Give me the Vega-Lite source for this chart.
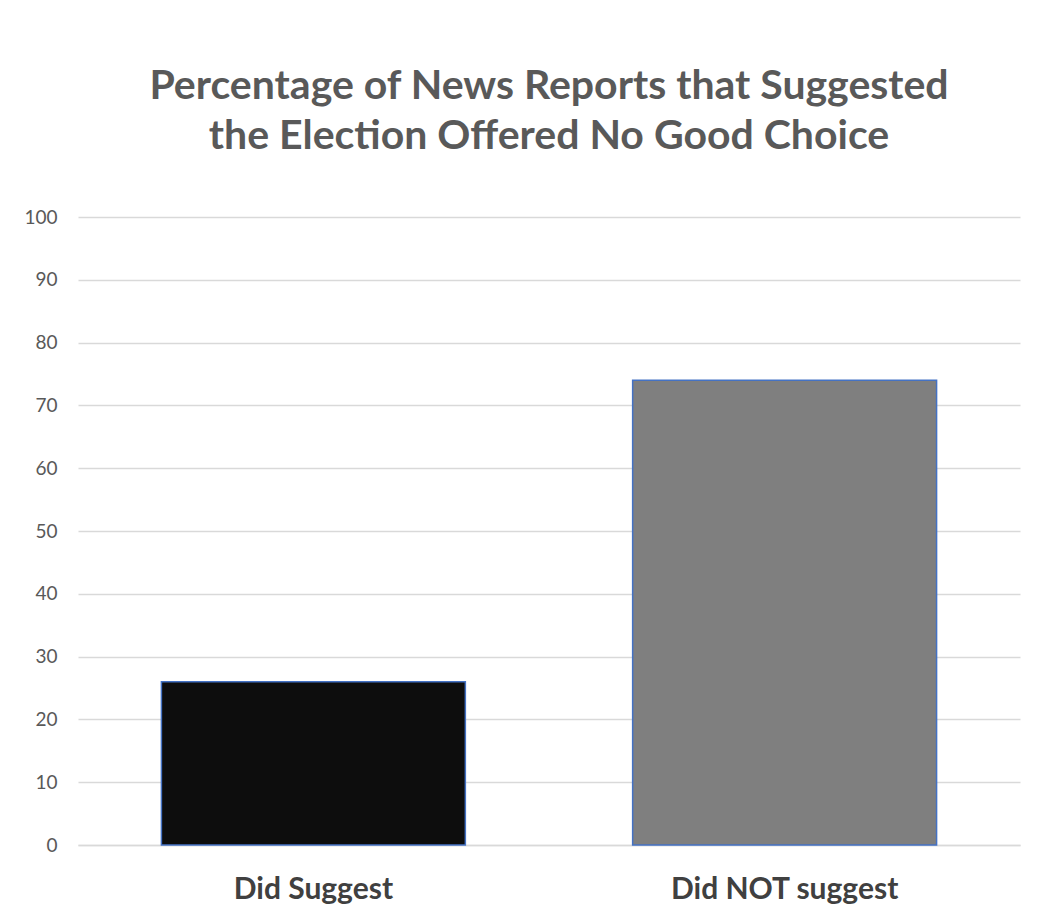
{
  "$schema": "https://vega.github.io/schema/vega-lite/v6.json",
  "autosize": "none",
  "width": 942,
  "height": 628,
  "padding": {"left": 78, "top": 217, "right": 19, "bottom": 77},
  "background": "white",
  "title": {
    "text": ["Percentage of News Reports that Suggested", "the Election Offered No Good Choice"],
    "font": "Lato",
    "fontSize": 41,
    "fontWeight": "bold",
    "color": "#595959",
    "lineHeight": 50,
    "anchor": "middle",
    "offset": 50
  },
  "data": {
    "values": [
      {"category": "Did Suggest", "percent": 26},
      {"category": "Did NOT suggest", "percent": 74}
    ]
  },
  "mark": {"type": "bar", "stroke": "#4472c4", "strokeWidth": 1.5},
  "encoding": {
    "x": {
      "field": "category",
      "type": "nominal",
      "sort": null,
      "scale": {"paddingInner": 0.355, "paddingOuter": 0.177},
      "axis": {
        "title": null,
        "labelAngle": 0,
        "labelFont": "Lato",
        "labelFontSize": 30,
        "labelFontWeight": "bold",
        "labelColor": "#404040",
        "labelPadding": 29,
        "labelLimit": 0,
        "ticks": false,
        "domainColor": "#d9d9d9",
        "domainWidth": 1.5
      }
    },
    "y": {
      "field": "percent",
      "type": "quantitative",
      "scale": {"domain": [0, 100]},
      "axis": {
        "title": null,
        "values": [0, 10, 20, 30, 40, 50, 60, 70, 80, 90, 100],
        "labelFont": "Lato",
        "labelFontSize": 19,
        "labelColor": "#595959",
        "labelPadding": 21,
        "ticks": false,
        "domain": false,
        "gridColor": "#d9d9d9",
        "gridWidth": 1.5
      }
    },
    "color": {
      "field": "category",
      "type": "nominal",
      "scale": {"domain": ["Did Suggest", "Did NOT suggest"], "range": ["#0d0d0d", "#7f7f7f"]},
      "legend": null
    }
  },
  "config": {"view": {"stroke": null}}
}
